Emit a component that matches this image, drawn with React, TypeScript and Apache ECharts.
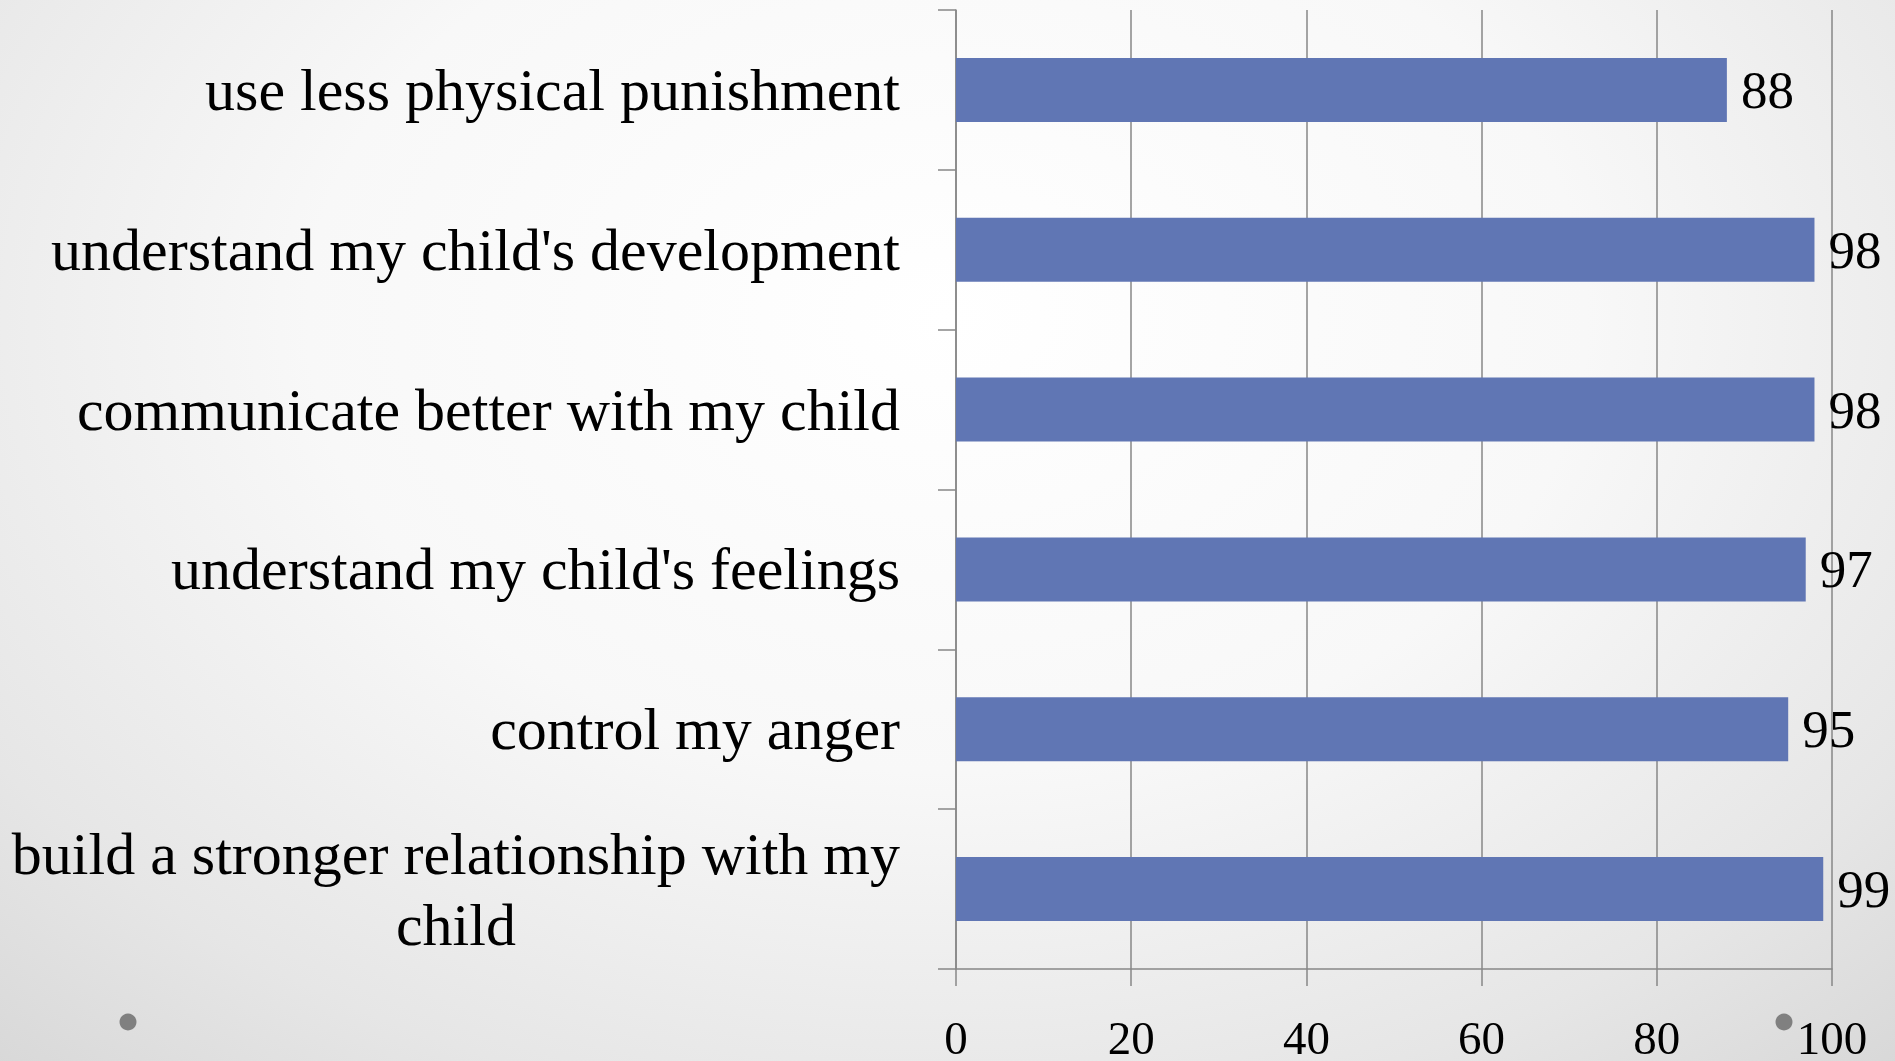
import React, { useEffect, useRef } from "react";
import * as echarts from "echarts";

const categories = [
  "use less physical punishment",
  "understand my child's development",
  "communicate better with my child",
  "understand my child's feelings",
  "control my anger",
  "build a stronger relationship with my\nchild",
];
const values = [88, 98, 98, 97, 95, 99];
const axisMin = 0;
const axisMax = 100;
const axisStep = 20;

const FONT = "'Liberation Serif', 'Times New Roman', serif";
const GRAY = "#878787";

export default function App() {
  const ref = useRef<HTMLDivElement>(null);
  useEffect(() => {
    if (!ref.current) return;
    const chart = echarts.init(ref.current, undefined, { renderer: "svg" });
    chart.setOption({
      animation: false,
      backgroundColor: "transparent",
      grid: { left: 956, right: 63, top: 10, bottom: 88, containLabel: false },
      xAxis: {
        type: "value",
        min: axisMin,
        max: axisMax,
        interval: axisStep,
        axisLine: { show: true, lineStyle: { color: GRAY, width: 1.5 } },
        axisTick: { show: true, length: 17, lineStyle: { color: GRAY, width: 1.5 } },
        splitLine: { show: true, lineStyle: { color: GRAY, width: 1.5 } },
        axisLabel: {
          margin: 45,
          fontSize: 47,
          fontFamily: FONT,
          color: "#000",
        },
      },
      yAxis: {
        type: "category",
        inverse: true,
        data: categories,
        axisLine: { show: true, lineStyle: { color: GRAY, width: 1.5 } },
        axisTick: { show: true, length: 18, lineStyle: { color: GRAY, width: 1.5 } },
        splitLine: { show: false },
        axisLabel: {
          margin: 56,
          color: "#000",
          fontSize: 60,
          fontFamily: FONT,
          formatter: (v: string) =>
            v
              .split("\n")
              .map((l) => `{c|${l}}`)
              .join("\n"),
          rich: {
            c: {
              align: "center",
              fontSize: 60,
              fontFamily: FONT,
              color: "#000",
              lineHeight: 71,
            },
          },
        },
      },
      series: [
        {
          type: "bar",
          data: values,
          barWidth: "40%",
          itemStyle: { color: "#6076b4" },
          label: {
            show: true,
            position: "right",
            distance: 14,
            fontSize: 53,
            fontFamily: FONT,
            color: "#000",
          },
        },
      ],
      graphic: [
        { type: "circle", shape: { cx: 128, cy: 1022, r: 8.5 }, style: { fill: "#808080" }, z: 10 },
        { type: "circle", shape: { cx: 1784, cy: 1022, r: 8.5 }, style: { fill: "#808080" }, z: 10 },
      ],
    });
    return () => chart.dispose();
  }, []);
  return (
    <div
      style={{
        position: "fixed",
        left: 0,
        top: 0,
        width: 1895,
        height: 1061,
        overflow: "hidden",
        background:
          "radial-gradient(ellipse 75% 95% at 50% 30%, #ffffff 0%, #f8f8f8 45%, #e6e6e6 80%, #d8d8d8 100%)",
      }}
    >
      <div ref={ref} style={{ width: 1895, height: 1061 }} />
    </div>
  );
}
